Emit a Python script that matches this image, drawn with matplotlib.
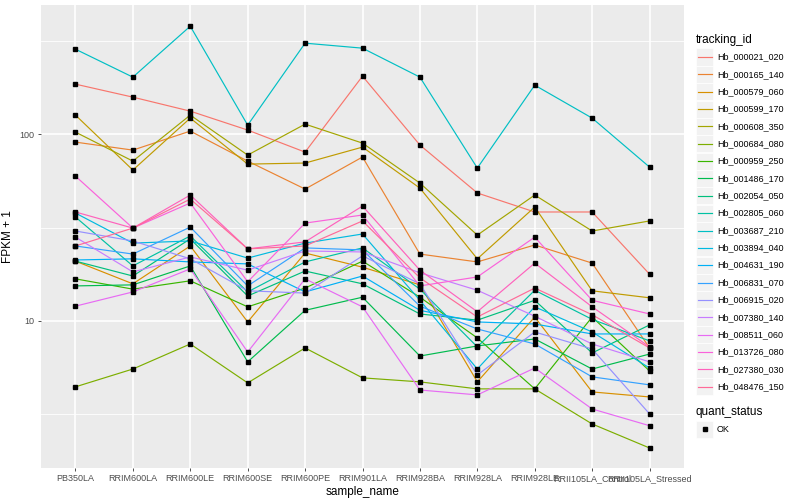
import numpy as np
import matplotlib
matplotlib.use("Agg")
import matplotlib.pyplot as plt
from matplotlib.lines import Line2D
from matplotlib.patches import Rectangle
from matplotlib.ticker import FixedLocator, NullFormatter

plt.rcParams['font.family'] = ['Liberation Sans', 'DejaVu Sans']

sample_names = ["PB350LA", "RRIM600LA", "RRIM600LE", "RRIM600SE", "RRIM600PE", "RRIM901LA",
                "RRIM928BA", "RRIM928LA", "RRIM928LE", "RRII105LA_Control", "RRII105LA_Stressed"]

tracking_ids = ["Hb_000021_020", "Hb_000165_140", "Hb_000579_060", "Hb_000599_170", "Hb_000608_350",
                "Hb_000684_080", "Hb_000959_250", "Hb_001486_170", "Hb_002054_050", "Hb_002805_060",
                "Hb_003687_210", "Hb_003894_040", "Hb_004631_190", "Hb_006831_070", "Hb_006915_020",
                "Hb_007380_140", "Hb_008511_060", "Hb_013726_080", "Hb_027380_030", "Hb_048476_150"]

# FPKM + 1, one list per gene, in sample order
hb_000021_020 = [185.1, 157.7, 132.7, 105.1, 80.1, 204.3, 87.4, 48.4, 38.3, 38.3, 17.8]
hb_000165_140 = [90.6, 82.1, 103.8, 71.7, 50.8, 75.4, 22.8, 20.7, 25.5, 20.4, 7.17]
hb_000579_060 = [20.9, 15.8, 25.2, 9.88, 23.1, 19.4, 15.6, 4.72, 10.5, 4.17, 3.92]
hb_000599_170 = [126.4, 64.2, 121.8, 69.1, 70.0, 85.2, 51.4, 21.5, 40.7, 14.5, 13.3]
hb_000608_350 = [102.5, 71.7, 126.4, 77.2, 113.1, 89.5, 54.7, 28.8, 47.2, 30.3, 34.3]
hb_000684_080 = [4.44, 5.53, 7.53, 4.66, 7.17, 4.96, 4.72, 4.33, 4.33, 2.81, 2.09]
hb_000959_250 = [16.8, 14.8, 16.4, 11.9, 15.0, 20.9, 13.4, 8.11, 4.33, 10.5, 5.40]
hb_001486_170 = [15.4, 15.6, 19.7, 6.04, 11.4, 13.4, 6.49, 7.35, 8.01, 5.53, 6.65]
hb_002054_050 = [20.9, 17.4, 27.5, 13.6, 18.5, 15.8, 10.9, 10.1, 12.9, 6.74, 9.52]
hb_002805_060 = [36.0, 19.7, 28.5, 14.3, 20.7, 24.6, 14.8, 7.26, 14.6, 10.2, 7.82]
hb_003687_210 = [284.8, 201.8, 378.1, 111.7, 306.7, 288.4, 201.8, 65.8, 182.8, 121.8, 66.6]
hb_003894_040 = [37.8, 26.1, 26.8, 21.7, 26.1, 29.2, 12.9, 5.53, 11.9, 8.73, 5.60]
hb_004631_190 = [21.2, 21.5, 20.7, 20.2, 14.3, 17.4, 11.4, 9.88, 9.63, 8.52, 8.52]
hb_006831_070 = [25.2, 22.8, 31.8, 15.4, 24.6, 24.0, 12.0, 9.06, 7.53, 5.02, 4.55]
hb_006915_020 = [30.3, 26.8, 21.5, 14.5, 14.1, 22.3, 15.8, 5.14, 8.73, 7.08, 3.18]
hb_007380_140 = [28.1, 18.3, 22.0, 18.7, 23.7, 23.4, 18.1, 14.6, 10.6, 7.53, 6.04]
hb_008511_060 = [12.0, 14.3, 19.0, 6.82, 16.8, 11.9, 4.27, 4.02, 5.60, 3.38, 2.75]
hb_013726_080 = [59.6, 31.4, 42.8, 16.2, 33.4, 36.9, 15.4, 17.2, 28.1, 12.9, 10.9]
hb_027380_030 = [38.3, 31.4, 47.2, 24.3, 26.5, 41.2, 18.7, 11.2, 20.4, 11.9, 7.26]
hb_048476_150 = [25.2, 31.4, 44.9, 24.3, 25.2, 34.3, 17.0, 10.5, 15.0, 10.8, 7.17]

series = [hb_000021_020, hb_000165_140, hb_000579_060, hb_000599_170, hb_000608_350,
          hb_000684_080, hb_000959_250, hb_001486_170, hb_002054_050, hb_002805_060,
          hb_003687_210, hb_003894_040, hb_004631_190, hb_006831_070, hb_006915_020,
          hb_007380_140, hb_008511_060, hb_013726_080, hb_027380_030, hb_048476_150]


def hue_colors(n, c=100.0, l=65.0):
    # same as ggplot's default hue palette (polar LUV -> sRGB)
    hues = np.linspace(15, 375, n + 1)[:-1]
    wu, wv, wy = 0.1978398, 0.4683363, 100.0
    out = []
    for h in hues:
        u = c * np.cos(np.radians(h))
        v = c * np.sin(np.radians(h))
        Y = wy * ((l + 16) / 116) ** 3
        uu = u / (13 * l) + wu
        vv = v / (13 * l) + wv
        X = 9.0 * Y * uu / (4 * vv)
        Z = -X / 3 - 5 * Y + 3 * Y / vv
        rgb = [(3.240479 * X - 1.537150 * Y - 0.498535 * Z) / wy,
               (-0.969256 * X + 1.875992 * Y + 0.041556 * Z) / wy,
               (0.055648 * X - 0.204043 * Y + 1.057311 * Z) / wy]
        rgb = [1.055 * t ** (1 / 2.4) - 0.055 if t > 0.00304 else 12.92 * t for t in rgb]
        out.append(tuple(min(max(t, 0.0), 1.0) for t in rgb))
    return out


colors = hue_colors(len(tracking_ids))

W, H = 800, 500
fig = plt.figure(figsize=(W / 100, H / 100), dpi=100)
ax = fig.add_axes([41 / W, 32 / H, 643 / W, 463 / H])
ax.set_facecolor("#EBEBEB")

x = np.arange(1, len(sample_names) + 1)
for vals, col in zip(series, colors):
    ax.plot(x, vals, color=col, lw=0.85, zorder=2)
for vals in series:
    ax.plot(x, vals, ls="none", marker="s", ms=2.6, color="black", zorder=3)

ax.set_yscale("log")
ax.set_xlim(0.4, 11.6)
ax.set_ylim(10 ** 0.213, 10 ** 2.691)
ax.yaxis.set_major_locator(FixedLocator([10, 100]))
ax.yaxis.set_major_formatter(matplotlib.ticker.FixedFormatter(["10", "100"]))
ax.yaxis.set_minor_locator(FixedLocator([10 ** 0.5, 10 ** 1.5, 10 ** 2.5]))
ax.yaxis.set_minor_formatter(NullFormatter())
ax.set_xticks(x)
ax.set_xticklabels(sample_names)

ax.grid(which="major", color="white", lw=1.2)
ax.grid(which="minor", axis="y", color="white", lw=0.6)
ax.set_axisbelow(True)
for s in ax.spines.values():
    s.set_visible(False)
ax.tick_params(which="major", length=2.5, width=0.6, color="#333333",
               labelsize=6.5, labelcolor="#4D4D4D", pad=2)
ax.tick_params(which="minor", length=0)

ax.set_xlabel("sample_name", fontsize=8.5, labelpad=2)
ax.set_ylabel("FPKM + 1", fontsize=8.5, labelpad=4)

# legend drawn in pixel coordinates of the figure
def fx(px):
    return px / W


def fy(py):
    return 1 - py / H


fig.text(fx(696), fy(40), "tracking_id", fontsize=8.5, va="center", ha="left")
row0, step, key = 57, 17.35, 17
for i, (tid, col) in enumerate(zip(tracking_ids, colors)):
    cy = row0 + i * step
    fig.add_artist(Rectangle((fx(696), fy(cy + key / 2)), key / W, key / H,
                             facecolor="#F2F2F2", edgecolor="white", lw=0.5,
                             transform=fig.transFigure))
    fig.add_artist(Line2D([fx(698), fx(712)], [fy(cy), fy(cy)], color=col, lw=0.85,
                          transform=fig.transFigure))
    fig.text(fx(717), fy(cy), tid, fontsize=6.5, va="center", ha="left")

fig.text(fx(696), fy(412), "quant_status", fontsize=8.5, va="center", ha="left")
fig.add_artist(Rectangle((fx(696), fy(429 + key / 2)), key / W, key / H,
                         facecolor="#F2F2F2", edgecolor="white", lw=0.5,
                         transform=fig.transFigure))
fig.add_artist(Line2D([fx(704.5)], [fy(429)], ls="none", marker="s", ms=2.6, color="black",
                      transform=fig.transFigure))
fig.text(fx(717), fy(429), "OK", fontsize=6.5, va="center", ha="left")

fig.savefig("out.png", dpi=100)
